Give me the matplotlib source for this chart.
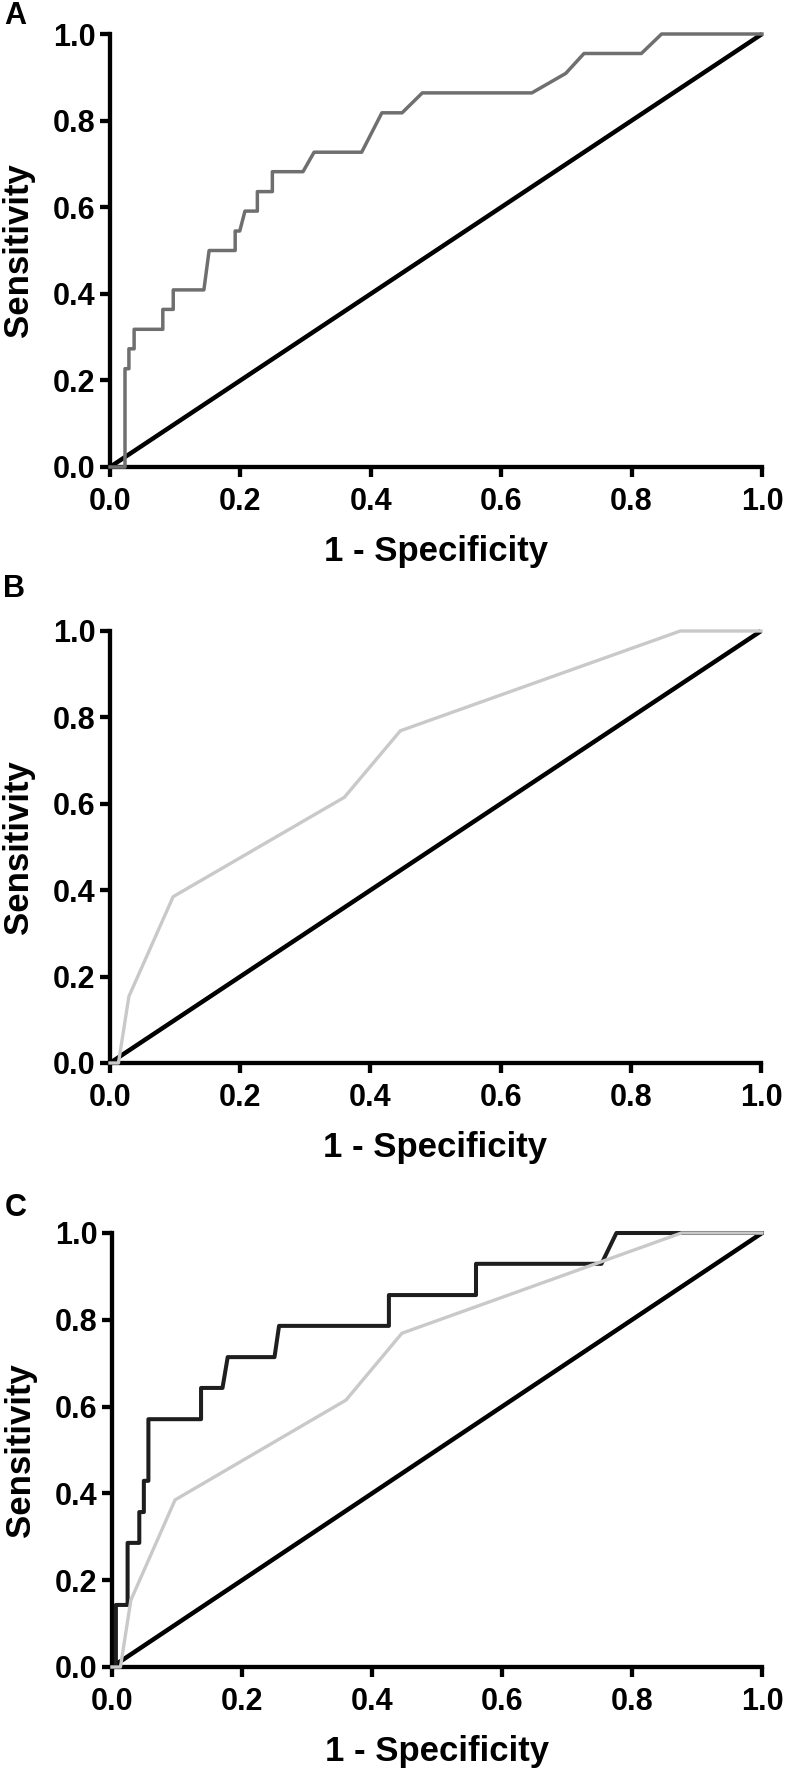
import numpy as np
import matplotlib
matplotlib.use('Agg')
import matplotlib.pyplot as plt

plt.rcParams['font.family'] = ['Liberation Sans', 'DejaVu Sans']
plt.rcParams['font.weight'] = 'bold'

# panel A: ROC curve (grey steps)
a_fpr = [0, 0.023, 0.023, 0.029, 0.029, 0.037, 0.037, 0.081, 0.081, 0.097, 0.097,
         0.144, 0.152, 0.192, 0.192, 0.199, 0.207, 0.226, 0.226, 0.249, 0.249,
         0.296, 0.313, 0.386, 0.417, 0.448, 0.479, 0.647, 0.699, 0.727, 0.815,
         0.846, 1.0]
a_sens = [0, 0, 0.227, 0.227, 0.273, 0.273, 0.318, 0.318, 0.364, 0.364, 0.409,
          0.409, 0.5, 0.5, 0.545, 0.545, 0.591, 0.591, 0.636, 0.636, 0.682,
          0.682, 0.727, 0.727, 0.818, 0.818, 0.864, 0.864, 0.909, 0.955, 0.955,
          1.0, 1.0]

# panel B: light grey curve (also drawn in C)
b_fpr = [0, 0.013, 0.029, 0.097, 0.360, 0.446, 0.876, 1.0]
b_sens = [0, 0, 0.154, 0.385, 0.615, 0.769, 1.0, 1.0]

# panel C: dark step curve
c_fpr = [0, 0.006, 0.006, 0.024, 0.024, 0.042, 0.042, 0.049, 0.049, 0.056, 0.056,
         0.137, 0.137, 0.170, 0.178, 0.250, 0.257, 0.426, 0.426, 0.560, 0.560,
         0.753, 0.776, 1.0]
c_sens = [0, 0, 0.143, 0.143, 0.286, 0.286, 0.357, 0.357, 0.429, 0.429, 0.571,
          0.571, 0.643, 0.643, 0.714, 0.714, 0.786, 0.786, 0.857, 0.857, 0.929,
          0.929, 1.0, 1.0]

ref = [0, 1]
ticks = [0.0, 0.2, 0.4, 0.6, 0.8, 1.0]

W, H = 789, 1772
fig = plt.figure(figsize=(W / 100, H / 100), dpi=100)

# axes boxes in pixels: left, top, right, bottom
boxes = [(110, 34, 762, 467), (110, 631, 761, 1063), (112, 1233, 762, 1667)]
letters = ['A', 'B', 'C']
letter_pos = [(15, 16), (14, 589), (16, 1208)]

axes = []
for (l, t, r, b) in boxes:
    ax = fig.add_axes([l / W, 1 - b / H, (r - l) / W, (b - t) / H])
    axes.append(ax)

for ax, let, (lx, ly) in zip(axes, letters, letter_pos):
    ax.plot(ref, ref, color='black', lw=3.2, clip_on=False, zorder=3,
            solid_capstyle='butt')
    ax.set_xlim(0, 1)
    ax.set_ylim(0, 1)
    ax.set_xticks(ticks)
    ax.set_yticks(ticks)
    ax.set_xticklabels([f'{v:.1f}' for v in ticks])
    ax.set_yticklabels([f'{v:.1f}' for v in ticks])
    for s in ['top', 'right']:
        ax.spines[s].set_visible(False)
    for s in ['left', 'bottom']:
        ax.spines[s].set_linewidth(3.1)
    ax.tick_params(axis='both', direction='out', length=7.5, width=3.1,
                   labelsize=22)
    ax.tick_params(axis='x', pad=7)
    ax.tick_params(axis='y', pad=3)
    ax.set_xlabel('1 - Specificity', fontsize=25, fontweight='bold', labelpad=13)
    ax.set_ylabel('Sensitivity', fontsize=25, fontweight='bold', labelpad=13)
    fig.text(lx / W, 1 - ly / H, let, fontsize=22, fontweight='bold',
             ha='center', va='center')

axes[0].plot(a_fpr, a_sens, color='#6f6f6f', lw=2.5, clip_on=False, zorder=4)
axes[1].plot(b_fpr, b_sens, color='#c9c9c9', lw=2.4, clip_on=False, zorder=4)
axes[2].plot(b_fpr, b_sens, color='#c9c9c9', lw=2.4, clip_on=False, zorder=4)
axes[2].plot(c_fpr, c_sens, color='#1e1e1e', lw=2.9, clip_on=False, zorder=3.5)

plt.savefig('out.png', dpi=100)
